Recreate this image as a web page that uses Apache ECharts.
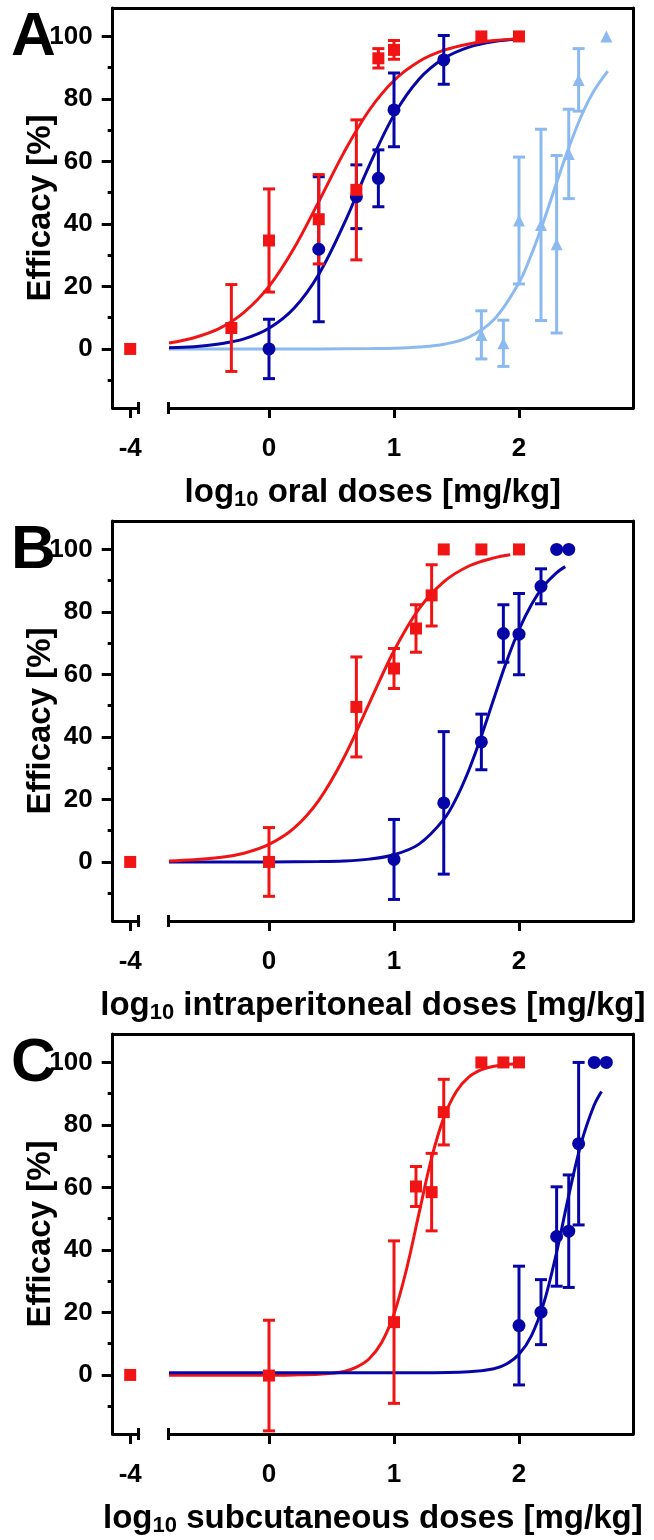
<!DOCTYPE html>
<html><head><meta charset="utf-8">
<script src="https://cdn.jsdelivr.net/npm/echarts@6/dist/echarts.min.js"></script>
<style>html,body{margin:0;padding:0;background:#fff}#c{width:654px;height:1540px}</style>
</head><body><div id="c"></div>
<script>
// ---------- data (log10 dose [mg/kg], efficacy %) ----------
const CTRL_X = -4;                       // vehicle control, left of axis break
const Y_MAJOR = [0, 20, 40, 60, 80, 100];
const Y_MINOR = [-10, 10, 30, 50, 70, 90];
const X_TICKS = [0, 1, 2];

// Panel A - oral
const A_ctrlRed = [0];
const A_redX = [-0.301, 0, 0.398, 0.699, 0.875, 1, 1.699, 2];
const A_redY = [6.7, 34.7, 41.5, 50.9, 93.0, 95.7, 100, 100];
const A_redE = [13.9, 16.5, 14.3, 22.4, 3.1, 3.0, 0, 0];
const A_blueX = [0, 0.398, 0.699, 0.875, 1, 1.398];
const A_blueY = [0, 31.9, 48.7, 54.6, 76.5, 92.5];
const A_blueE = [9.5, 23.2, 10.2, 9.1, 11.8, 7.8];
const A_lightX = [1.699, 1.875, 2, 2.176, 2.301, 2.398, 2.477, 2.699];
const A_lightY = [4.5, 1.8, 41.1, 39.7, 33.5, 62.4, 86.1, 100];
const A_lightE = [7.7, 7.4, 20.3, 30.6, 28.4, 14.3, 10.0, 0];
const A_redCurveX = [-0.8, -0.6, -0.4, -0.2, 0, 0.2, 0.4, 0.6, 0.8, 1.0, 1.2, 1.4, 1.6, 1.8, 2.0];
const A_redCurveY = [1.9, 3.6, 6.5, 11.7, 20.0, 32.2, 47.3, 62.9, 76.3, 85.9, 92.0, 95.6, 97.6, 98.7, 99.3];
const A_blueCurveX = [-0.8, -0.6, -0.4, -0.2, 0, 0.2, 0.4, 0.6, 0.8, 1.0, 1.2, 1.4, 1.6, 1.8, 2.0];
const A_blueCurveY = [0.4, 0.7, 1.6, 3.2, 6.6, 13.0, 24.0, 40.0, 58.5, 74.9, 86.3, 93.0, 96.6, 98.4, 99.2];
const A_lightCurveX = [-0.8, -0.4, 0, 0.4, 0.8, 1.0, 1.2, 1.4, 1.6, 1.8, 2.0, 2.1, 2.2, 2.3, 2.4, 2.5, 2.6, 2.71];
const A_lightCurveY = [0, 0, 0, 0, 0.1, 0.2, 0.6, 1.5, 3.8, 9.4, 21.2, 30.3, 41.2, 53.1, 64.6, 74.7, 82.6, 88.9];

// Panel B - intraperitoneal
const B_ctrlRed = [0];
const B_redX = [0, 0.699, 1, 1.176, 1.301, 1.398, 1.699, 2];
const B_redY = [0, 49.6, 61.9, 74.7, 85.3, 100, 100, 100];
const B_redE = [11.0, 16.0, 6.4, 7.6, 9.8, 0, 0, 0];
const B_blueX = [1, 1.398, 1.699, 1.875, 2, 2.176, 2.301, 2.398];
const B_blueY = [0.8, 18.9, 38.4, 73.1, 72.9, 88.2, 100, 100];
const B_blueE = [12.8, 22.8, 8.9, 9.2, 13.0, 5.6, 0, 0];
const B_redCurveX = [-0.8, -0.6, -0.4, -0.2, 0, 0.2, 0.4, 0.6, 0.8, 1.0, 1.2, 1.4, 1.6, 1.8, 1.93];
const B_redCurveY = [0.3, 0.7, 1.4, 2.8, 5.6, 10.8, 19.8, 33.4, 50.6, 67.6, 81.0, 89.7, 94.7, 97.3, 98.3];
const B_blueCurveX = [-0.8, -0.4, 0, 0.4, 0.6, 0.8, 1.0, 1.2, 1.4, 1.5, 1.6, 1.7, 1.8, 1.9, 2.0, 2.1, 2.2, 2.3, 2.37];
const B_blueCurveY = [0, 0, 0, 0.1, 0.3, 0.9, 2.3, 5.7, 13.7, 20.5, 29.5, 40.4, 52.4, 64.1, 74.3, 82.4, 88.4, 92.5, 94.5];

// Panel C - subcutaneous
const C_ctrlRed = [0];
const C_redX = [0, 1, 1.176, 1.301, 1.398, 1.699, 1.875, 2];
const C_redY = [-0.2, 16.9, 60.3, 58.5, 84.1, 100, 100, 100];
const C_redE = [17.7, 26.0, 6.4, 12.4, 10.5, 0, 0, 0];
const C_blueX = [2, 2.176, 2.301, 2.398, 2.477, 2.602, 2.699];
const C_blueY = [15.8, 20.1, 44.3, 46.0, 74.0, 100, 100];
const C_blueE = [19.0, 10.4, 15.9, 18.0, 26.0, 0, 0];
const C_redCurveX = [-0.8, -0.4, 0, 0.2, 0.4, 0.5, 0.6, 0.7, 0.8, 0.9, 1.0, 1.1, 1.2, 1.3, 1.4, 1.5, 1.6, 1.7, 1.8, 1.98];
const C_redCurveY = [-0.1, -0.1, -0.1, 0, 0.2, 0.5, 1.1, 2.5, 5.1, 10.3, 19.5, 33.8, 51.7, 69.3, 82.5, 90.8, 95.4, 97.7, 98.8, 99.6];
const C_blueCurveX = [-0.8, -0.4, 0, 0.4, 0.8, 1.2, 1.6, 1.8, 1.9, 2.0, 2.1, 2.2, 2.3, 2.4, 2.5, 2.6, 2.66];
const C_blueCurveY = [0.7, 0.7, 0.7, 0.7, 0.7, 0.7, 1.0, 2.0, 3.5, 6.6, 12.6, 23.2, 39.1, 57.8, 74.5, 86.2, 90.7];

// ---------- styling ----------
const RED = '#f01414', BLUE = '#0606a8', LIGHT = '#8cbaf0';
const FONT = '"Liberation Sans", Arial, Helvetica, sans-serif';
const LINE = { color: '#000', width: 3 };
const Y_MIN = -18.9, Y_MAX = 109.1;
const LBL = { color: '#000', fontFamily: FONT, fontWeight: 'bold', fontSize: 26 };

const panels = [
  { letter: 'A', route: ' oral doses [mg/kg]', ctrl: A_ctrlRed, groups: [
    { x: A_lightX, y: A_lightY, e: A_lightE, cx: A_lightCurveX, cy: A_lightCurveY, color: LIGHT, sym: 'triangle', size: 12 },
    { x: A_blueX, y: A_blueY, e: A_blueE, cx: A_blueCurveX, cy: A_blueCurveY, color: BLUE, sym: 'circle', size: 13 },
    { x: A_redX, y: A_redY, e: A_redE, cx: A_redCurveX, cy: A_redCurveY, color: RED, sym: 'rect', size: 12 }]},
  { letter: 'B', route: ' intraperitoneal doses [mg/kg]', ctrl: B_ctrlRed, groups: [
    { x: B_blueX, y: B_blueY, e: B_blueE, cx: B_blueCurveX, cy: B_blueCurveY, color: BLUE, sym: 'circle', size: 13 },
    { x: B_redX, y: B_redY, e: B_redE, cx: B_redCurveX, cy: B_redCurveY, color: RED, sym: 'rect', size: 12 }]},
  { letter: 'C', route: ' subcutaneous doses [mg/kg]', ctrl: C_ctrlRed, groups: [
    { x: C_redX, y: C_redY, e: C_redE, cx: C_redCurveX, cy: C_redCurveY, color: RED, sym: 'rect', size: 12 },
    { x: C_blueX, y: C_blueY, e: C_blueE, cx: C_blueCurveX, cy: C_blueCurveY, color: BLUE, sym: 'circle', size: 13 }]}
];

const option = { animation: false, backgroundColor: '#fff', textStyle: { fontFamily: FONT },
  title: [], grid: [], xAxis: [], yAxis: [], series: [] };

const noAx = { axisLine: { show: false, onZero: false }, axisTick: { show: false }, axisLabel: { show: false }, splitLine: { show: false } };

function errRender(color) {
  return function (params, api) {
    const x = api.value(0), y = api.value(1), e = api.value(2);
    if (!e) return;
    const t = api.coord([x, y + e]), b = api.coord([x, y - e]);
    const hw = 6, st = { stroke: color, lineWidth: 3 };
    return { type: 'group', children: [
      { type: 'line', shape: { x1: t[0], y1: t[1], x2: b[0], y2: b[1] }, style: st },
      { type: 'line', shape: { x1: t[0] - hw, y1: t[1], x2: t[0] + hw, y2: t[1] }, style: st },
      { type: 'line', shape: { x1: b[0] - hw, y1: b[1], x2: b[0] + hw, y2: b[1] }, style: st }
    ]};
  };
}

panels.forEach((p, k) => {
  const T = 8 + k * 513;
  const g = option.grid.length, xi = option.xAxis.length, yi = option.yAxis.length;
  option.grid.push({ left: 112.7, right: 21, top: T, height: 400 });      // frame
  option.grid.push({ left: 112.7, width: 26, top: T, height: 400 });       // control segment
  option.grid.push({ left: 168.5, right: 21, top: T, height: 400 });       // dose segment

  option.title.push({ text: p.letter, left: 11, top: T - 1, padding: 0,
    textStyle: { fontSize: 62, fontWeight: 'bold', color: '#000', fontFamily: FONT } });

  // frame axes
  option.xAxis.push(Object.assign({}, noAx, { gridIndex: g, type: 'value', min: 0, max: 1, position: 'top',
    axisLine: { show: true, onZero: false, lineStyle: LINE } }));
  option.xAxis.push(Object.assign({}, noAx, { gridIndex: g, type: 'value', min: 0, max: 1, position: 'bottom',
    name: '{m|log}{s|10}{m|' + p.route + '}', nameLocation: 'middle', nameGap: 67, nameMoveOverlap: false,
    nameTextStyle: { rich: {
      m: { fontSize: 33, fontWeight: 'bold', color: '#000', fontFamily: FONT, lineHeight: 36 },
      s: { fontSize: 22, fontWeight: 'bold', color: '#000', fontFamily: FONT, lineHeight: 10, verticalAlign: 'bottom' } } } }));
  option.yAxis.push(Object.assign({}, noAx, { gridIndex: g, type: 'value', min: 0, max: 1, position: 'right',
    axisLine: { show: true, onZero: false, lineStyle: LINE } }));

  // control segment axes
  option.xAxis.push({ gridIndex: g + 1, type: 'value', min: -4.14, max: -3.932, position: 'bottom',
    axisLine: { show: true, onZero: false, lineStyle: LINE },
    axisTick: { show: true, customValues: [CTRL_X], length: 10, lineStyle: LINE },
    axisLabel: Object.assign({ show: true, customValues: [CTRL_X], margin: 28 }, LBL),
    splitLine: { show: false } });
  option.xAxis.push(Object.assign({}, noAx, { gridIndex: g + 1, type: 'value', min: -4.14, max: -3.932, position: 'bottom', offset: 6,
    axisTick: { show: true, inside: true, customValues: [-3.933], length: 12, lineStyle: LINE } }));
  option.yAxis.push({ gridIndex: g + 1, type: 'value', min: Y_MIN, max: Y_MAX, position: 'left',
    axisLine: { show: true, onZero: false, lineStyle: LINE },
    axisTick: { show: true, customValues: Y_MAJOR, length: 11, lineStyle: LINE },
    axisLabel: Object.assign({ show: true, customValues: Y_MAJOR, margin: 20 }, LBL),
    splitLine: { show: false },
    name: 'Efficacy [%]', nameLocation: 'middle', nameGap: 55, nameMoveOverlap: false,
    nameTextStyle: { fontSize: 33, fontWeight: 'bold', color: '#000', fontFamily: FONT } });
  option.yAxis.push(Object.assign({}, noAx, { gridIndex: g + 1, type: 'value', min: Y_MIN, max: Y_MAX, position: 'left',
    axisTick: { show: true, customValues: Y_MINOR, length: 5, lineStyle: LINE } }));

  // dose segment axes
  option.xAxis.push({ gridIndex: g + 2, type: 'value', min: -0.804, max: 2.912, position: 'bottom',
    axisLine: { show: true, onZero: false, lineStyle: LINE },
    axisTick: { show: true, customValues: X_TICKS, length: 10, lineStyle: LINE },
    axisLabel: Object.assign({ show: true, customValues: X_TICKS, margin: 28 }, LBL),
    splitLine: { show: false } });
  option.xAxis.push(Object.assign({}, noAx, { gridIndex: g + 2, type: 'value', min: -0.804, max: 2.912, position: 'bottom', offset: 6,
    axisTick: { show: true, inside: true, customValues: [-0.803], length: 12, lineStyle: LINE } }));
  option.yAxis.push(Object.assign({}, noAx, { gridIndex: g + 2, type: 'value', min: Y_MIN, max: Y_MAX, show: false }));

  const mx = xi + 5, my = yi + 3, cxI = xi + 3, cyI = yi + 1;
  // curves
  p.groups.forEach(gr => {
    option.series.push({ type: 'line', xAxisIndex: mx, yAxisIndex: my, data: gr.cx.map((v, i) => [v, gr.cy[i]]),
      showSymbol: false, symbol: 'none', smooth: 0.35, lineStyle: { color: gr.color, width: 3 }, z: 2, silent: true });
  });
  // error bars
  p.groups.forEach(gr => {
    option.series.push({ type: 'custom', xAxisIndex: mx, yAxisIndex: my, renderItem: errRender(gr.color),
      data: gr.x.map((v, i) => [v, gr.y[i], gr.e[i]]), encode: { x: 0, y: 1 }, z: 3, clip: false, silent: true });
  });
  // markers
  p.groups.forEach(gr => {
    option.series.push({ type: 'scatter', xAxisIndex: mx, yAxisIndex: my, data: gr.x.map((v, i) => [v, gr.y[i]]),
      symbol: gr.sym, symbolSize: gr.size, itemStyle: { color: gr.color, opacity: 1 }, z: 4, silent: true });
  });
  // control point
  option.series.push({ type: 'scatter', xAxisIndex: cxI, yAxisIndex: cyI, data: p.ctrl.map(v => [CTRL_X, v]),
    symbol: 'rect', symbolSize: 12, itemStyle: { color: RED, opacity: 1 }, z: 4, silent: true });
});

const chart = echarts.init(document.getElementById('c'), null, { renderer: 'canvas' });
chart.setOption(option);
</script></body></html>
